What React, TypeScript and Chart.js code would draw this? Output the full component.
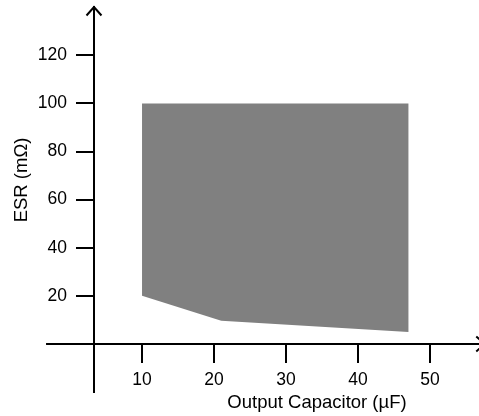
import React, { useEffect, useRef } from "react";
import { Chart, registerables } from "chart.js";

Chart.register(...registerables);

// Stable-region outline (output capacitance vs ESR)
const capacitanceUF = [10, 21, 47, 47, 10];
const esrMilliOhm = [20, 9.6, 5, 100, 100];

const xTickValues = [10, 20, 30, 40, 50];
const yTickValues = [20, 40, 60, 80, 100, 120];

const xAxisStart = -3.33; // left end of the x axis line
const xArrowTip = 57.6;
const xMinAtYAxis = 3.33; // where the y axis crosses
const xMax = 56.8;
const yMin = -20;
const yMax = 140.1;

const xTitle = "Output Capacitor (µF)";
const yTitle = "ESR (mΩ)";

const FONT = '"Liberation Sans", Arial, Helvetica, sans-serif';

const axesDecor = {
  id: "axesDecor",
  afterDraw(chart: any) {
    const { ctx, chartArea } = chart;
    const x = chart.scales.x;
    const y = chart.scales.y;
    const y0 = y.getPixelForValue(0);
    const yAxisX = chartArea.left;
    ctx.save();
    ctx.strokeStyle = "#000";
    ctx.lineWidth = 2;
    // x axis stub left of the y axis
    ctx.beginPath();
    ctx.moveTo(x.getPixelForValue(xAxisStart), y0);
    ctx.lineTo(yAxisX, y0);
    ctx.stroke();
    // y arrow
    const yTop = y.getPixelForValue(yMax);
    ctx.beginPath();
    ctx.moveTo(yAxisX - 7.5, yTop + 8.5);
    ctx.lineTo(yAxisX, yTop);
    ctx.lineTo(yAxisX + 7.5, yTop + 8.5);
    ctx.stroke();
    // x arrow
    const xTip = x.getPixelForValue(xArrowTip);
    ctx.beginPath();
    ctx.moveTo(xTip - 8.5, y0 - 7.5);
    ctx.lineTo(xTip, y0);
    ctx.lineTo(xTip - 8.5, y0 + 7.5);
    ctx.stroke();
    // titles
    ctx.fillStyle = "#000";
    ctx.font = `18.5px ${FONT}`;
    ctx.textAlign = "center";
    ctx.textBaseline = "middle";
    ctx.fillText(xTitle, 317, 403);
    ctx.translate(22, 180);
    ctx.rotate(-Math.PI / 2);
    ctx.fillText(yTitle, 0, 0);
    ctx.restore();
  },
};

export default function App() {
  const canvasRef = useRef<HTMLCanvasElement | null>(null);

  useEffect(() => {
    const canvas = canvasRef.current;
    if (!canvas) return;
    const zeroPad = (scale: any) => {
      scale.paddingLeft = 0;
      scale.paddingRight = 0;
      scale.paddingTop = 0;
      scale.paddingBottom = 0;
    };
    const chart = new Chart(canvas, {
      type: "scatter",
      data: {
        datasets: [
          {
            data: capacitanceUF.map((c, i) => ({ x: c, y: esrMilliOhm[i] })),
            showLine: true,
            fill: "shape",
            backgroundColor: "#808080",
            borderColor: "#808080",
            borderWidth: 0,
            pointRadius: 0,
            tension: 0,
          } as any,
        ],
      },
      options: {
        animation: false,
        responsive: false,
        maintainAspectRatio: false,
        layout: { padding: { left: 0, right: 0, top: 7, bottom: 24 } },
        plugins: {
          legend: { display: false },
          tooltip: { enabled: false },
        },
        scales: {
          x: {
            type: "linear",
            position: { y: 0 } as any,
            min: xMinAtYAxis,
            max: xMax,
            afterBuildTicks: (s: any) => {
              s.ticks = xTickValues.map((v) => ({ value: v }));
            },
            afterFit: zeroPad,
            grid: {
              drawOnChartArea: false,
              drawTicks: true,
              tickLength: 18,
              color: "#000",
              lineWidth: 2,
            },
            border: { display: true, color: "#000", width: 2 },
            ticks: {
              color: "#000",
              padding: 8,
              font: { family: FONT, size: 17.5 },
              maxRotation: 0,
              autoSkip: false,
            },
          },
          y: {
            type: "linear",
            position: "left",
            min: yMin,
            max: yMax,
            afterBuildTicks: (s: any) => {
              s.ticks = yTickValues.map((v) => ({ value: v }));
            },
            afterFit: (s: any) => {
              zeroPad(s);
              s.width = 94;
            },
            grid: {
              drawOnChartArea: false,
              drawTicks: true,
              tickLength: 18,
              color: "#000",
              lineWidth: 2,
            },
            border: { display: true, color: "#000", width: 2 },
            ticks: {
              color: "#000",
              padding: 9,
              font: { family: FONT, size: 17.5 },
              autoSkip: false,
            },
          },
        },
      },
      plugins: [axesDecor],
    });
    return () => chart.destroy();
  }, []);

  return (
    <div style={{ position: "fixed", left: 0, top: 0, width: 479, height: 416, background: "#fff" }}>
      <canvas ref={canvasRef} width={479} height={416} style={{ display: "block" }} />
    </div>
  );
}
